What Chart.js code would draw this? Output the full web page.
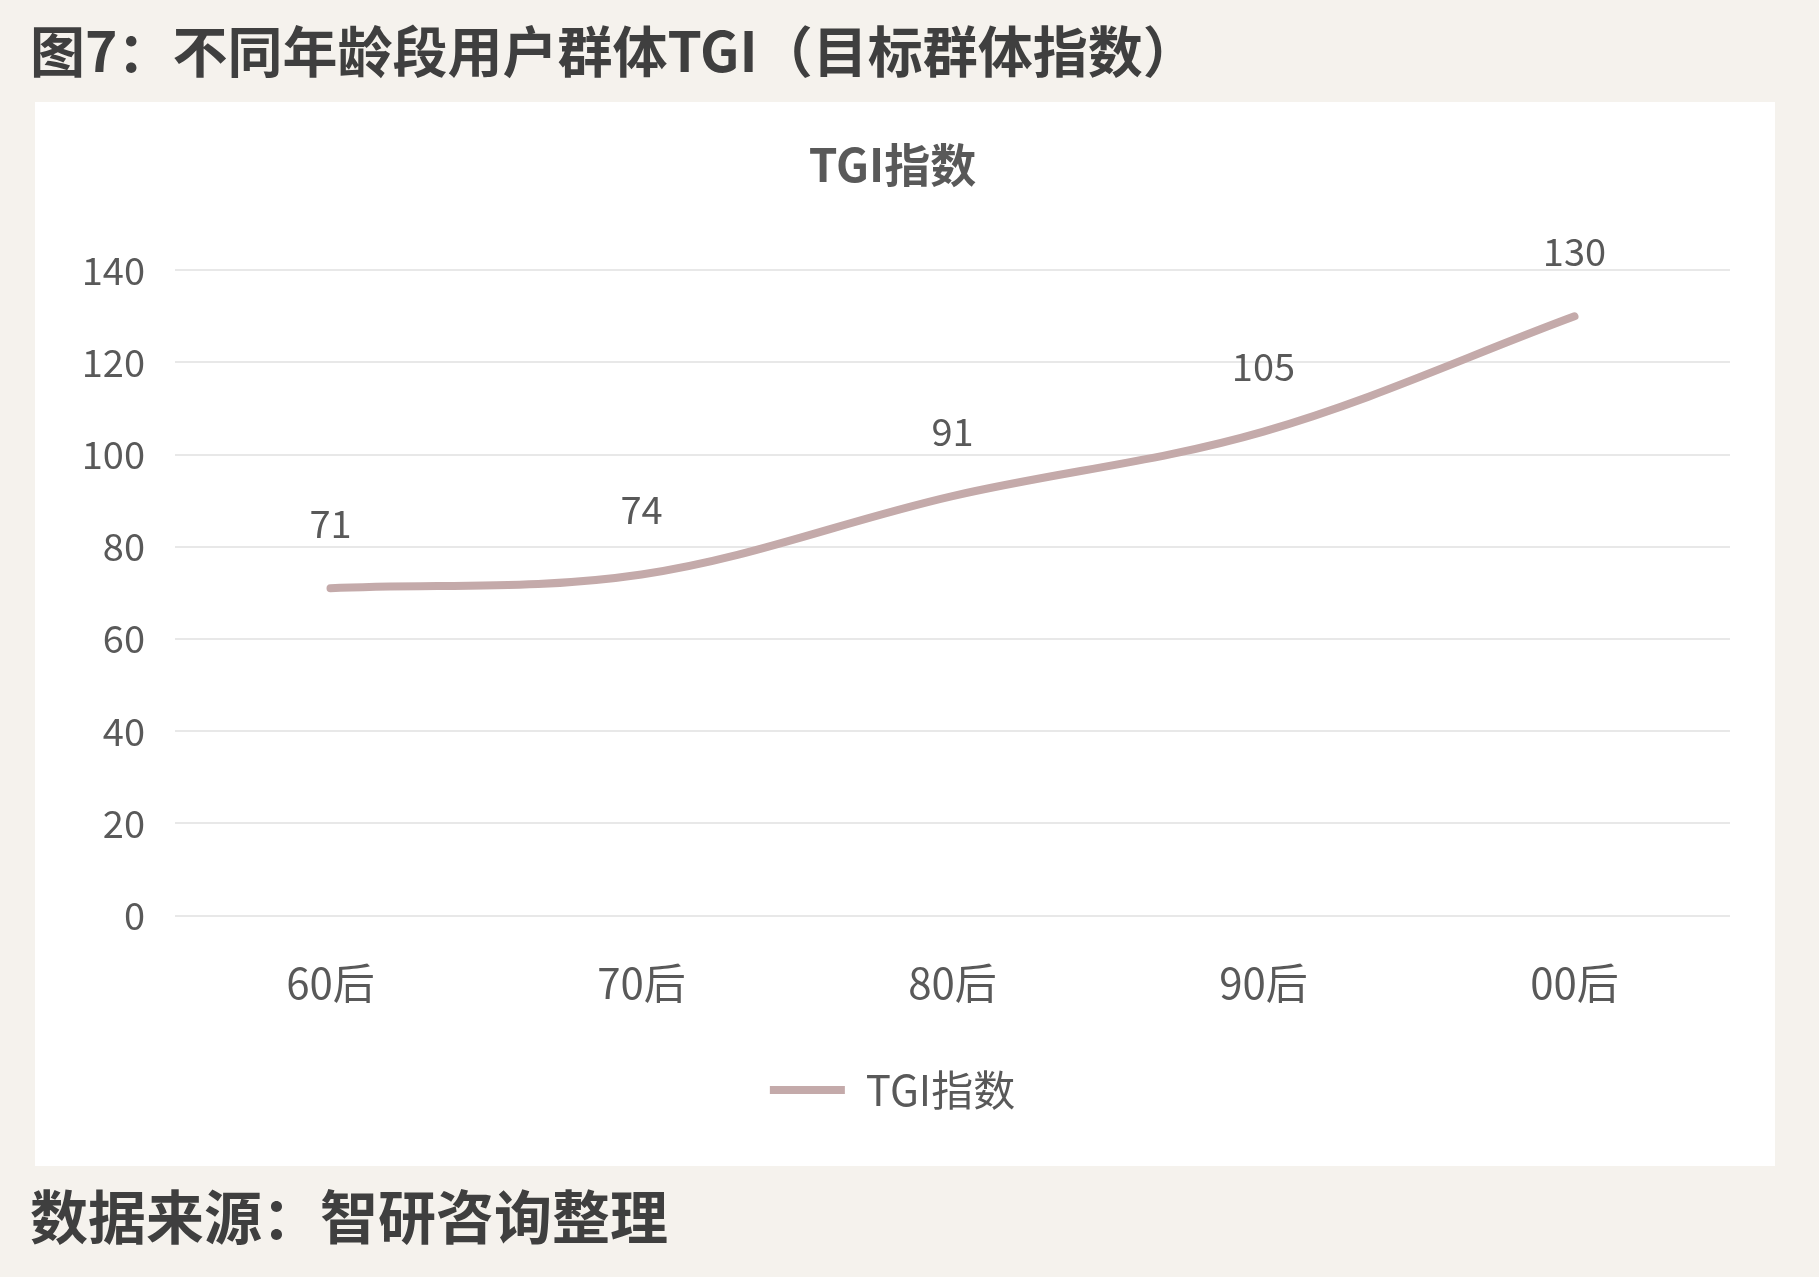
<!DOCTYPE html>
<html>
<head>
<meta charset="utf-8">
<script src="https://cdn.jsdelivr.net/npm/chart.js@4"></script>
<style>
  body { margin: 0; background: #f5f2ed; width: 1819px; height: 1277px; overflow: hidden;
         font-family: "Noto Sans CJK SC", "Noto Sans", sans-serif; }
  #title { position: absolute; left: 30px; top: 8px; font-size: 55px; font-weight: bold; color: #3f3f3f; white-space: nowrap; }
  #panel { position: absolute; left: 35px; top: 102px; width: 1740px; height: 1064px; background: #ffffff; }
  #source { position: absolute; left: 30px; top: 1172px; font-size: 58px; font-weight: bold; color: #3f3f3f; white-space: nowrap; }
</style>
</head>
<body>
<div id="title">图7：不同年龄段用户群体TGI（目标群体指数）</div>
<div id="panel"><canvas id="chart" width="1740" height="1064"></canvas></div>
<div id="source">数据来源：智研咨询整理</div>
<script>
const ageGroups = ["60后", "70后", "80后", "90后", "00后"];
const tgiValues = [71, 74, 91, 105, 130];
const yTicks = [0, 20, 40, 60, 80, 100, 120, 140];

const lineColor = "#c4aaaa";
const textColor = "#595959";
const cjkFont = '"Noto Sans CJK SC", "Noto Sans", sans-serif';

// draws the value above each point, using the point positions from the chart
const valueLabels = {
  id: "valueLabels",
  afterDatasetsDraw(chart) {
    const ctx = chart.ctx;
    const meta = chart.getDatasetMeta(0);
    ctx.save();
    ctx.font = "38px " + cjkFont;
    ctx.fillStyle = textColor;
    ctx.textAlign = "center";
    ctx.textBaseline = "middle";
    meta.data.forEach((pt, i) => {
      ctx.fillText(String(tgiValues[i]), pt.x, pt.y - 65);
    });
    ctx.restore();
  },
};

const ctx = document.getElementById("chart").getContext("2d");
new Chart(ctx, {
  type: "line",
  data: {
    labels: ageGroups,
    datasets: [
      {
        label: "TGI指数",
        data: tgiValues,
        borderColor: lineColor,
        backgroundColor: lineColor,
        borderWidth: 8,
        borderCapStyle: "round",
        tension: 0.35,
        pointRadius: 0,
        fill: false,
      },
    ],
  },
  options: {
    responsive: false,
    animation: false,
    layout: { padding: { top: 28, left: 20, right: 45, bottom: 45 } },
    plugins: {
      title: {
        display: true,
        text: "TGI指数",
        color: textColor,
        font: { family: cjkFont, size: 46, weight: "bold" },
        padding: { top: 7, bottom: 78 },
      },
      legend: {
        position: "bottom",
        labels: {
          color: textColor,
          font: { family: cjkFont, size: 42 },
          usePointStyle: true,
          pointStyle: "line",
          pointStyleWidth: 75,
          padding: 27,
        },
      },
      tooltip: { enabled: false },
    },
    scales: {
      x: {
        offset: true,
        grid: { display: false },
        border: { display: false },
        ticks: { color: textColor, font: { family: cjkFont, size: 42 }, padding: 34 },
      },
      y: {
        min: 0,
        max: 140,
        afterBuildTicks(scale) {
          scale.ticks = yTicks.map((v) => ({ value: v }));
        },
        afterFit(scale) {
          scale.width = 120;
        },
        grid: { color: "#e8e8e8", lineWidth: 2, drawTicks: false },
        border: { display: false },
        ticks: { color: textColor, font: { family: cjkFont, size: 38 }, padding: 30 },
      },
    },
  },
  plugins: [valueLabels],
});
</script>
</body>
</html>
